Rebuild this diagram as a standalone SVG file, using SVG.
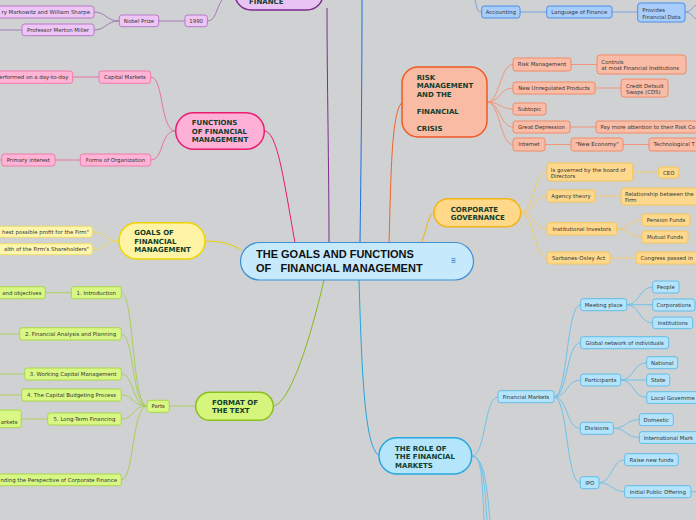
<svg xmlns="http://www.w3.org/2000/svg" width="696" height="520" viewBox="0 0 696 520">
<style>
.c{font-family:"DejaVu Sans",Verdana,sans-serif;font-size:5.4px;fill:#333}
.m{text-anchor:middle}
.e{text-anchor:end}
.t{font-family:"DejaVu Sans",Verdana,sans-serif;font-size:7px;font-weight:bold;fill:#123d2c}
.ct{font-family:"Liberation Sans",Arial,sans-serif;font-size:11px;font-weight:bold;fill:#111;white-space:pre}
.ln{fill:none;stroke-width:1}
.pu rect{fill:#eec6f6;stroke:#b57bc6;stroke-width:1}
.pk rect{fill:#ffb3d5;stroke:#f07aac;stroke-width:1}
.ye rect{fill:#fff6ae;stroke:#efdc6a;stroke-width:1}
.gr rect{fill:#d9f784;stroke:#a8d64a;stroke-width:1}
.sa rect{fill:#f9bda7;stroke:#f08a66;stroke-width:1}
.or rect{fill:#fed98d;stroke:#f5c55a;stroke-width:1}
.bl rect{fill:#b3e4fb;stroke:#62bde8;stroke-width:1}
.ac rect{fill:#a9cdfb;stroke:#4a8de6;stroke-width:1}
</style>
<rect x="0" y="0" width="696" height="520" fill="#d0d1d3"/>

<g id="connectors">
  <!-- main branches -->
  <path class="ln" stroke="#7d2f8f" stroke-width="1.5" d="M327 8 C327 80 329 170 329 243"/>
  <path class="ln" stroke="#1c6fe0" stroke-width="1.5" d="M362 0 C362 80 361 170 360 243"/>
  <path class="ln" stroke="#f0622a" stroke-width="1.5" d="M389 243 C391 180 391 108 403 102"/>
  <path class="ln" stroke="#f5b210" stroke-width="1.5" d="M421 244 C427 230 428 213 435 212"/>
  <path class="ln" stroke="#e8196e" stroke-width="1.5" d="M264 131 C277 131 283 175 295 243"/>
  <path class="ln" stroke="#ecd000" stroke-width="1.5" d="M205 241 C222 241 230 244 242 250"/>
  <path class="ln" stroke="#84b81a" stroke-width="1.5" d="M273 406 C290 404 310 340 324 280"/>
  <path class="ln" stroke="#1fa3dd" stroke-width="1.5" d="M359 280 C362 380 365 450 380 456"/>

  <!-- purple -->
  <g stroke="#a27bb5">
    <path class="ln" d="M207.3 21 C216 21 216 8 222 0"/>
    <path class="ln" d="M158.7 21 H185"/>
    <path class="ln" d="M119.3 21 C106 21 106 12 94 12"/>
    <path class="ln" d="M119.3 21 C106 21 106 30 94 30"/>
    <path class="ln" d="M22 30 H0"/>
  </g>
  <!-- accounting -->
  <g stroke="#7aa3e0">
    <path class="ln" d="M475 0 C477 8 477 12 481.7 12"/>
    <path class="ln" d="M520 12 H546.7"/>
    <path class="ln" d="M612 12 H637.7"/>
    <path class="ln" d="M685 12 C690 12 692 8 696 5"/>
    <path class="ln" d="M685 12 C690 12 692 16 696 19"/>
  </g>
  <!-- pink -->
  <g stroke="#e8739f">
    <path class="ln" d="M175.7 131 C160 131 164 77 150.7 77"/>
    <path class="ln" d="M175.7 131 C160 131 164 160 150.7 160"/>
    <path class="ln" d="M99 77 H72.7"/>
    <path class="ln" d="M80.3 160 H55"/>
    <path class="ln" d="M1.7 160 H0"/>
  </g>
  <!-- yellow -->
  <g stroke="#ead86a">
    <path class="ln" d="M119 241 C104 241 106 231.8 92.3 231.8"/>
    <path class="ln" d="M119 241 C104 241 106 249.2 92.3 249.2"/>
  </g>
  <!-- green -->
  <g stroke="#a9cf5a">
    <path class="ln" d="M169.3 406 H195.7"/>
    <path class="ln" d="M147 406 C132 406 134 292.7 121.3 292.7"/>
    <path class="ln" d="M147 406 C132 406 134 334 121.3 334"/>
    <path class="ln" d="M147 406 C132 406 134 374 121.3 374"/>
    <path class="ln" d="M147 406 C132 406 134 395 121.3 395"/>
    <path class="ln" d="M147 406 C132 406 134 419 121.3 419"/>
    <path class="ln" d="M147 406 C132 406 134 480 121.3 480"/>
    <path class="ln" d="M71.3 292.7 H45.3"/>
    <path class="ln" d="M19.7 334 H0"/>
    <path class="ln" d="M24.7 374 H0"/>
    <path class="ln" d="M21.7 395 H0"/>
    <path class="ln" d="M47.7 419 H21.3"/>
  </g>
  <!-- salmon -->
  <g stroke="#f2957a">
    <path class="ln" d="M487 102 C500 102 500 64.5 513 64.5"/>
    <path class="ln" d="M487 102 C500 102 500 88 513 88"/>
    <path class="ln" d="M487 102 C500 102 500 109 513 109"/>
    <path class="ln" d="M487 102 C500 102 500 127 513 127"/>
    <path class="ln" d="M487 102 C500 102 500 144.5 513 144.5"/>
    <path class="ln" d="M571 64.5 H597"/>
    <path class="ln" d="M595 88 H621"/>
    <path class="ln" d="M570 127 H596"/>
    <path class="ln" d="M545 144.5 H571"/>
    <path class="ln" d="M623 144.5 H649"/>
  </g>
  <!-- orange -->
  <g stroke="#f3cc6a">
    <path class="ln" d="M520.7 212.7 C534 212.7 534 172 547 172"/>
    <path class="ln" d="M520.7 212.7 C534 212.7 534 196 547 196"/>
    <path class="ln" d="M520.7 212.7 C534 212.7 534 229 547 229"/>
    <path class="ln" d="M520.7 212.7 C534 212.7 534 258 547 258"/>
    <path class="ln" d="M632.7 172 H658.7"/>
    <path class="ln" d="M595 196 H621"/>
    <path class="ln" d="M616.7 229 C629 229 630 220 642 220"/>
    <path class="ln" d="M616.7 229 C629 229 630 237 642 237"/>
    <path class="ln" d="M610 258 H636"/>
  </g>
  <!-- blue role -->
  <g stroke="#6fc2ea">
    <path class="ln" d="M471.7 456 C486 456 484 397 498 397"/>
    <path class="ln" d="M471.7 456 C481 456 482 472 484 520"/>
    <path class="ln" d="M471.7 456 C482 457 484 473 487 520"/>
    <path class="ln" d="M471.7 456 C483 458 486 475 490 520"/>
    <path class="ln" d="M554 397 C568 397 566 304.7 580.7 304.7"/>
    <path class="ln" d="M554 397 C568 397 566 342.7 580.7 342.7"/>
    <path class="ln" d="M554 397 C568 397 566 380 580.7 380"/>
    <path class="ln" d="M554 397 C568 397 566 428.3 580.3 428.3"/>
    <path class="ln" d="M554 397 C568 397 566 482.7 580.3 482.7"/>
    <path class="ln" d="M626.7 304.7 C640 304.7 639 287 652.7 287"/>
    <path class="ln" d="M626.7 304.7 H652.7"/>
    <path class="ln" d="M626.7 304.7 C640 304.7 639 323 652.7 323"/>
    <path class="ln" d="M620.7 380 C634 380 633 362.7 646.7 362.7"/>
    <path class="ln" d="M620.7 380 H646.7"/>
    <path class="ln" d="M620.7 380 C634 380 633 397.5 646.7 397.5"/>
    <path class="ln" d="M613.3 428.3 C626 428.3 626 419.7 639.3 419.7"/>
    <path class="ln" d="M613.3 428.3 C626 428.3 626 437.5 639.3 437.5"/>
    <path class="ln" d="M599 482.7 C612 482.7 612 459.7 624.7 459.7"/>
    <path class="ln" d="M599 482.7 C612 482.7 612 491.7 624.7 491.7"/>
    <path class="ln" d="M691 491.7 H696"/>
  </g>
</g>

<!-- center -->
<g id="center">
  <rect x="240.5" y="242.5" width="233" height="37.5" rx="19" fill="#c6eafb" stroke="#3d8ed3" stroke-width="1.2"/>
  <text class="ct" x="256" y="258">THE GOALS AND FUNCTIONS</text>
  <text class="ct" x="256" y="271.5">OF   FINANCIAL MANAGEMENT</text>
  <rect x="449.5" y="256.5" width="8" height="8" rx="1" fill="#c6eafb"/>
  <path d="M451.5 258.7 H455.5 M451.5 260.5 H455.5 M451.5 262.3 H455.5" stroke="#3d7ed3" stroke-width="0.9"/>
</g>

<!-- FINANCE (purple) -->
<g id="finance" class="pu">
  <rect x="235" y="-30" width="88" height="40" rx="16" style="fill:#eac3f5;stroke:#7a2d8c;stroke-width:1.5"/>
  <text class="t" x="249" y="4">FINANCE</text>
</g>
<g id="y1990" class="pu"><rect x="185" y="15" width="22.3" height="11.7" rx="2.5"/><text class="c m" x="196.2" y="22.9">1990</text></g>
<g id="nobel" class="pu"><rect x="119.3" y="15" width="39.4" height="11.7" rx="2.5"/><text class="c m" x="139" y="22.9">Nobel Prize</text></g>
<g id="markowitz" class="pu"><rect x="-40" y="6" width="134" height="12" rx="2.5"/><text class="c e" x="90" y="13.9">ry Markowitz and William Sharpe</text></g>
<g id="miller" class="pu"><rect x="22" y="24" width="72" height="11.7" rx="2.5"/><text class="c m" x="58" y="31.9">Professor Merton Miller</text></g>

<!-- Accounting (blue) -->
<g id="accounting" class="ac"><rect x="481.7" y="6" width="38.3" height="12" rx="2.5"/><text class="c m" x="500.8" y="13.9">Accounting</text></g>
<g id="language" class="ac"><rect x="546.7" y="6" width="65.3" height="12" rx="2.5"/><text class="c m" x="579.3" y="13.9">Language of Finance</text></g>
<g id="provides" class="ac"><rect x="637.7" y="3" width="47.3" height="19" rx="3"/><text class="c" x="642.3" y="12">Provides</text><text class="c" x="642.3" y="18.6">Financial Data</text></g>

<!-- Functions (pink) -->
<g id="functions" class="pk">
  <rect x="175.7" y="112.7" width="88.6" height="36.6" rx="18" style="fill:#ffb0d6;stroke:#e81d6f;stroke-width:1.5"/>
  <text class="t" x="191.7" y="124.9">FUNCTIONS</text>
  <text class="t" x="191.7" y="133.6">OF FINANCIAL</text>
  <text class="t" x="191.7" y="142.3">MANAGEMENT</text>
</g>
<g id="capmk" class="pk"><rect x="99" y="71" width="51.7" height="12.3" rx="2.5"/><text class="c m" x="124.9" y="79.1">Capital Markets</text></g>
<g id="performed" class="pk"><rect x="-20" y="71" width="92.7" height="12.3" rx="2.5"/><text class="c e" x="68.5" y="79.1">erformed on a day-to-day</text></g>
<g id="forms" class="pk"><rect x="80.3" y="154" width="70.4" height="12" rx="2.5"/><text class="c m" x="115.5" y="161.9">Forms of Organization</text></g>
<g id="primary" class="pk"><rect x="1.7" y="154" width="53.3" height="12" rx="2.5"/><text class="c m" x="28.3" y="161.9">Primary interest</text></g>

<!-- Goals (yellow) -->
<g id="goals" class="ye">
  <rect x="119" y="222.7" width="86" height="36.3" rx="18" style="fill:#fff4a5;stroke:#f0d400;stroke-width:1.5"/>
  <text class="t" x="134.3" y="235.3">GOALS OF</text>
  <text class="t" x="134.3" y="243.9">FINANCIAL</text>
  <text class="t" x="134.3" y="252.4">MANAGEMENT</text>
</g>
<g id="goal1" class="ye"><rect x="-20" y="226.3" width="112.3" height="11" rx="2.5"/><text class="c e" x="89" y="233.7">hest possible profit for the Firm"</text></g>
<g id="goal2" class="ye"><rect x="-20" y="243.7" width="112.3" height="11" rx="2.5"/><text class="c e" x="89" y="251.2">alth of the Firm's Shareholders"</text></g>

<!-- Format (green) -->
<g id="format" class="gr">
  <rect x="195.7" y="392.3" width="77.6" height="28" rx="14" style="fill:#d6f57d;stroke:#8bbf1d;stroke-width:1.5"/>
  <text class="t" x="212" y="404.9">FORMAT OF</text>
  <text class="t" x="212" y="413.3">THE TEXT</text>
</g>
<g id="parts" class="gr"><rect x="147" y="400.3" width="22.3" height="12" rx="2.5"/><text class="c m" x="158.2" y="408.2">Parts</text></g>
<g id="p1" class="gr"><rect x="71.3" y="286.7" width="50" height="12" rx="2.5"/><text class="c m" x="96.3" y="294.6">1. Introduction</text></g>
<g id="p1a" class="gr"><rect x="-20" y="286.7" width="65.3" height="12" rx="2.5"/><text class="c e" x="41.5" y="294.6">and objectives</text></g>
<g id="p2" class="gr"><rect x="19.7" y="327.7" width="101.6" height="12.3" rx="2.5"/><text class="c m" x="70.5" y="335.8">2. Financial Analysis and Planning</text></g>
<g id="p3" class="gr"><rect x="24.7" y="368" width="96.6" height="12" rx="2.5"/><text class="c m" x="73" y="375.9">3. Working Capital Management</text></g>
<g id="p4" class="gr"><rect x="21.7" y="389" width="99.6" height="12" rx="2.5"/><text class="c m" x="71.5" y="396.9">4. The Capital Budgeting Process</text></g>
<g id="p5" class="gr"><rect x="47.7" y="413" width="73.6" height="12" rx="2.5"/><text class="c m" x="84.5" y="420.9">5. Long-Term Financing</text></g>
<g id="p5a" class="gr"><rect x="-20" y="410" width="41.3" height="17.7" rx="2.5"/><text class="c e" x="17.5" y="423.5">arkets</text></g>
<g id="p6" class="gr"><rect x="-30" y="474" width="151.3" height="11.7" rx="2.5"/><text class="c e" x="117" y="481.8">nding the Perspective of Corporate Finance</text></g>

<!-- Risk (salmon) -->
<g id="risk" class="sa">
  <rect x="402" y="67" width="85" height="70" rx="16" style="fill:#f9bba4;stroke:#ef5a24;stroke-width:1.5"/>
  <text class="t" x="416.7" y="79.9">RISK</text>
  <text class="t" x="416.7" y="88.3">MANAGEMENT</text>
  <text class="t" x="416.7" y="96.9">AND THE</text>
  <text class="t" x="416.7" y="113.9">FINANCIAL</text>
  <text class="t" x="416.7" y="130.9">CRISIS</text>
</g>
<g id="riskmgmt" class="sa"><rect x="513" y="58" width="58" height="13" rx="2.5"/><text class="c m" x="542" y="66.4">Risk Management</text></g>
<g id="controls" class="sa"><rect x="597" y="55" width="89" height="19" rx="3"/><text class="c" x="601.3" y="64">Controls</text><text class="c" x="601.3" y="70.2">at most Financial Institutions</text></g>
<g id="unreg" class="sa"><rect x="513" y="82" width="82" height="12" rx="2.5"/><text class="c m" x="554" y="89.9">New Unregulated Products</text></g>
<g id="cds" class="sa"><rect x="621" y="79" width="47" height="18" rx="3"/><text class="c" x="626" y="87.5">Credit Default</text><text class="c" x="626" y="94">Swaps (CDS)</text></g>
<g id="subtopic" class="sa"><rect x="513" y="103" width="33" height="12" rx="2.5"/><text class="c m" x="529.5" y="110.9">Subtopic</text></g>
<g id="depression" class="sa"><rect x="513" y="121" width="57" height="12" rx="2.5"/><text class="c m" x="541.5" y="128.9">Great Depression</text></g>
<g id="attention" class="sa"><rect x="596" y="121" width="120" height="12" rx="2.5"/><text class="c" x="600.5" y="128.9">Pay more attention to their Risk Co</text></g>
<g id="internet" class="sa"><rect x="513" y="138" width="32" height="13" rx="2.5"/><text class="c m" x="529" y="146.4">Internet</text></g>
<g id="neweco" class="sa"><rect x="571" y="138" width="52" height="13" rx="2.5"/><text class="c m" x="597" y="146.4">"New Economy"</text></g>
<g id="techno" class="sa"><rect x="649" y="138" width="60" height="13" rx="2.5"/><text class="c" x="653.5" y="146.4">Technological T</text></g>

<!-- Corporate governance (orange) -->
<g id="governance" class="or">
  <rect x="434" y="198.7" width="86.7" height="28" rx="14" style="fill:#ffd88a;stroke:#f2b51a;stroke-width:1.5"/>
  <text class="t" x="450.7" y="211.9">CORPORATE</text>
  <text class="t" x="450.7" y="219.9">GOVERNANCE</text>
</g>
<g id="board" class="or"><rect x="547" y="163" width="85.7" height="18" rx="3"/><text class="c" x="550.8" y="172">Is governed by the board of</text><text class="c" x="550.8" y="177.9">Directors</text></g>
<g id="ceo" class="or"><rect x="658.7" y="167" width="20" height="11" rx="2.5"/><text class="c m" x="668.7" y="174.5">CEO</text></g>
<g id="agency" class="or"><rect x="547" y="190" width="48" height="12" rx="2.5"/><text class="c m" x="571" y="197.9">Agency theory</text></g>
<g id="relation" class="or"><rect x="621" y="188" width="90" height="17" rx="3"/><text class="c" x="625" y="195.7">Relationship between the</text><text class="c" x="625" y="201.7">Firm</text></g>
<g id="institutional" class="or"><rect x="547" y="222.7" width="69.7" height="12.3" rx="2.5"/><text class="c m" x="581.8" y="230.8">Institutional Investors</text></g>
<g id="pension" class="or"><rect x="642" y="214" width="48" height="12" rx="2.5"/><text class="c m" x="666" y="221.9">Pension Funds</text></g>
<g id="mutual" class="or"><rect x="642" y="231" width="46" height="12" rx="2.5"/><text class="c m" x="665" y="238.9">Mutual Funds</text></g>
<g id="sox" class="or"><rect x="547" y="252" width="63" height="12" rx="2.5"/><text class="c m" x="578.5" y="259.9">Sarbanes-Oxley Act</text></g>
<g id="congress" class="or"><rect x="636" y="252" width="80" height="12" rx="2.5"/><text class="c" x="640.5" y="259.9">Congress passed in</text></g>

<!-- Role of financial markets (blue) -->
<g id="role" class="bl">
  <rect x="379" y="437.7" width="92.7" height="36.3" rx="18" style="fill:#b5e5fb;stroke:#27a7e0;stroke-width:1.5"/>
  <text class="t" x="395" y="450.6">THE ROLE OF</text>
  <text class="t" x="395" y="459.3">THE FINANCIAL</text>
  <text class="t" x="395" y="468.2">MARKETS</text>
</g>
<g id="finmk" class="bl"><rect x="498" y="390.7" width="56" height="12" rx="2.5"/><text class="c m" x="526" y="398.6">Financial Markets</text></g>
<g id="meeting" class="bl"><rect x="580.7" y="298.7" width="46" height="12" rx="2.5"/><text class="c m" x="603.7" y="306.6">Meeting place</text></g>
<g id="people" class="bl"><rect x="652.7" y="281" width="26.3" height="12" rx="2.5"/><text class="c m" x="665.8" y="288.9">People</text></g>
<g id="corporations" class="bl"><rect x="652.7" y="299" width="42.3" height="12" rx="2.5"/><text class="c m" x="673.8" y="306.9">Corporations</text></g>
<g id="institutions" class="bl"><rect x="652.7" y="317" width="40" height="11.7" rx="2.5"/><text class="c m" x="672.7" y="324.8">Institutions</text></g>
<g id="global" class="bl"><rect x="580.7" y="336.7" width="88" height="12" rx="2.5"/><text class="c m" x="624.7" y="344.6">Global network of individuals</text></g>
<g id="participants" class="bl"><rect x="580.7" y="374" width="40" height="12" rx="2.5"/><text class="c m" x="600.7" y="381.9">Participants</text></g>
<g id="national" class="bl"><rect x="646.7" y="356.7" width="31" height="12" rx="2.5"/><text class="c m" x="662.2" y="364.6">National</text></g>
<g id="state" class="bl"><rect x="646.7" y="374" width="23" height="12" rx="2.5"/><text class="c m" x="658.2" y="381.9">State</text></g>
<g id="local" class="bl"><rect x="646.7" y="391.7" width="70" height="11.7" rx="2.5"/><text class="c" x="651" y="399.5">Local Governme</text></g>
<g id="divisions" class="bl"><rect x="580.3" y="422.3" width="33" height="12" rx="2.5"/><text class="c m" x="596.8" y="430.2">Divisions</text></g>
<g id="domestic" class="bl"><rect x="639.3" y="413.7" width="34" height="12" rx="2.5"/><text class="c m" x="656.3" y="421.6">Domestic</text></g>
<g id="international" class="bl"><rect x="639.3" y="431.7" width="80" height="11.7" rx="2.5"/><text class="c" x="643.7" y="439.5">International Mark</text></g>
<g id="ipo" class="bl"><rect x="580.3" y="476.7" width="18.7" height="12" rx="2.5"/><text class="c m" x="589.7" y="484.6">IPO</text></g>
<g id="raise" class="bl"><rect x="624.7" y="453.7" width="53.6" height="12" rx="2.5"/><text class="c m" x="651.5" y="461.6">Raise new funds</text></g>
<g id="initial" class="bl"><rect x="624.7" y="485.7" width="66.3" height="12" rx="2.5"/><text class="c m" x="657.8" y="493.6">Initial Public Offering</text></g>
</svg>
